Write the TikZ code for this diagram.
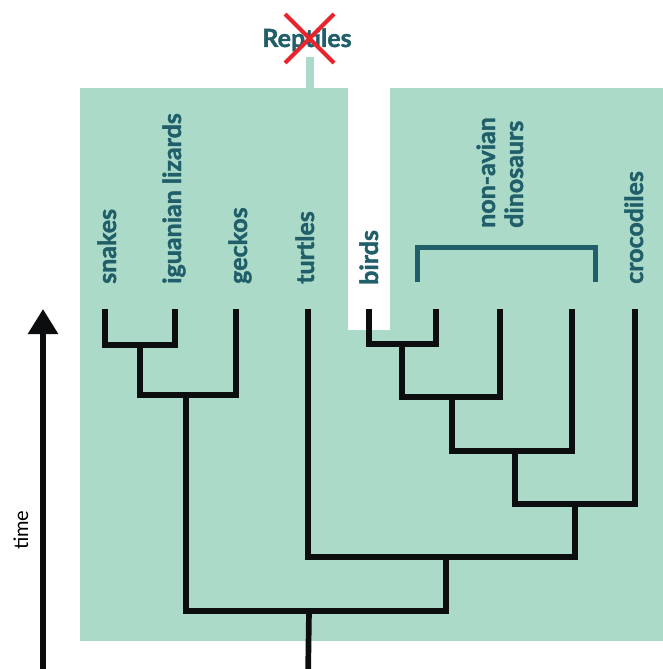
\documentclass[tikz,border=0pt]{standalone}
\usepackage{fontspec}
\setmainfont{Lato}
\newfontfamily\lblfont{Lato}[FakeBold=1.6]
\usetikzlibrary{arrows.meta}
\definecolor{bggreen}{HTML}{ABDAC8}
\definecolor{labelteal}{HTML}{205E69}
\definecolor{treeblack}{HTML}{0B0D0E}
\definecolor{crossred}{HTML}{E8232B}
\tikzset{
  branch/.style={line width=5.7pt, draw=treeblack},
  lbl/.style={rotate=90, anchor=base west, inner sep=0pt, text=labelteal,
    font=\lblfont\bfseries\fontsize{25}{28}\selectfont},
  bracketline/.style={line width=5pt, draw=labelteal},
  crossline/.style={line width=4pt, draw=crossred},
}
\begin{document}
\begin{tikzpicture}[x=1pt,y=-1pt]
\useasboundingbox (0,0) rectangle (663,669);
% background
\fill[bggreen] (80,88) rectangle (663,641);
\fill[white] (348,88) rectangle (390,330);
\fill[bggreen] (306,57) rectangle (314,88.5);
% title
\node[anchor=base, inner sep=0pt, text=labelteal, font=\lblfont\bfseries\fontsize{25}{28}\selectfont] (rep) at (307,47) {Reptiles};
\draw[crossline] (285,14) -- (334,63);
\draw[crossline] (334,14) -- (285,63);
% labels
\node[lbl] (snakes) at (116,284) {snakes};
\node[lbl] (iguan) at (181,284) {iguanian lizards};
\node[lbl] (geckos) at (247,284) {geckos};
\node[lbl] (turtles) at (314,284) {turtles};
\node[lbl] (birds) at (378,285) {birds};
\node[lbl] (nonav) at (495,228) {non-avian};
\node[lbl] (dinos) at (523,228) {dinosaurs};
\node[lbl] (crocs) at (643,284) {crocodiles};
% bracket
\coordinate (bl) at (417,282);
\coordinate (br) at (595,282);
\draw[bracketline] (bl) |- (506,247) -| (br);
% tips
\coordinate (tsn) at (105,309);
\coordinate (tig) at (175,309);
\coordinate (tge) at (236,309);
\coordinate (ttu) at (308,309);
\coordinate (tbi) at (369,309);
\coordinate (tn1) at (436,309);
\coordinate (tn2) at (500,309);
\coordinate (tn3) at (572,309);
\coordinate (tcr) at (635,309);
% internal nodes
\coordinate (j1) at (140,345);
\coordinate (j2) at (186,395);
\coordinate (j3) at (402,344);
\coordinate (j4) at (452,397);
\coordinate (j5) at (515,451);
\coordinate (j6) at (575,504);
\coordinate (j7) at (446,557);
\coordinate (root) at (309,611);
\coordinate (rootend) at (308,680);
% tree
\draw[branch] (tsn) |- (j1) -| (tig);
\draw[branch] (j1) |- (j2) -| (tge);
\draw[branch] (tbi) |- (j3) -| (tn1);
\draw[branch] (j3) |- (j4) -| (tn2);
\draw[branch] (j4) |- (j5) -| (tn3);
\draw[branch] (j5) |- (j6) -| (tcr);
\draw[branch] (ttu) |- (j7) -| (j6);
\draw[branch] (j2) |- (root) -| (j7);
\draw[branch] (root) -- (rootend);
% time axis
\coordinate (tbot) at (43,680);
\coordinate (ttop) at (43,309);
\draw[line width=5.7pt, draw=treeblack, -{Triangle[length=25pt,width=29pt]}] (tbot) -- (ttop);
\node[rotate=90, anchor=base west, inner sep=0pt, font=\fontsize{20}{22}\selectfont] (time) at (28,550) {time};
\end{tikzpicture}
\end{document}
